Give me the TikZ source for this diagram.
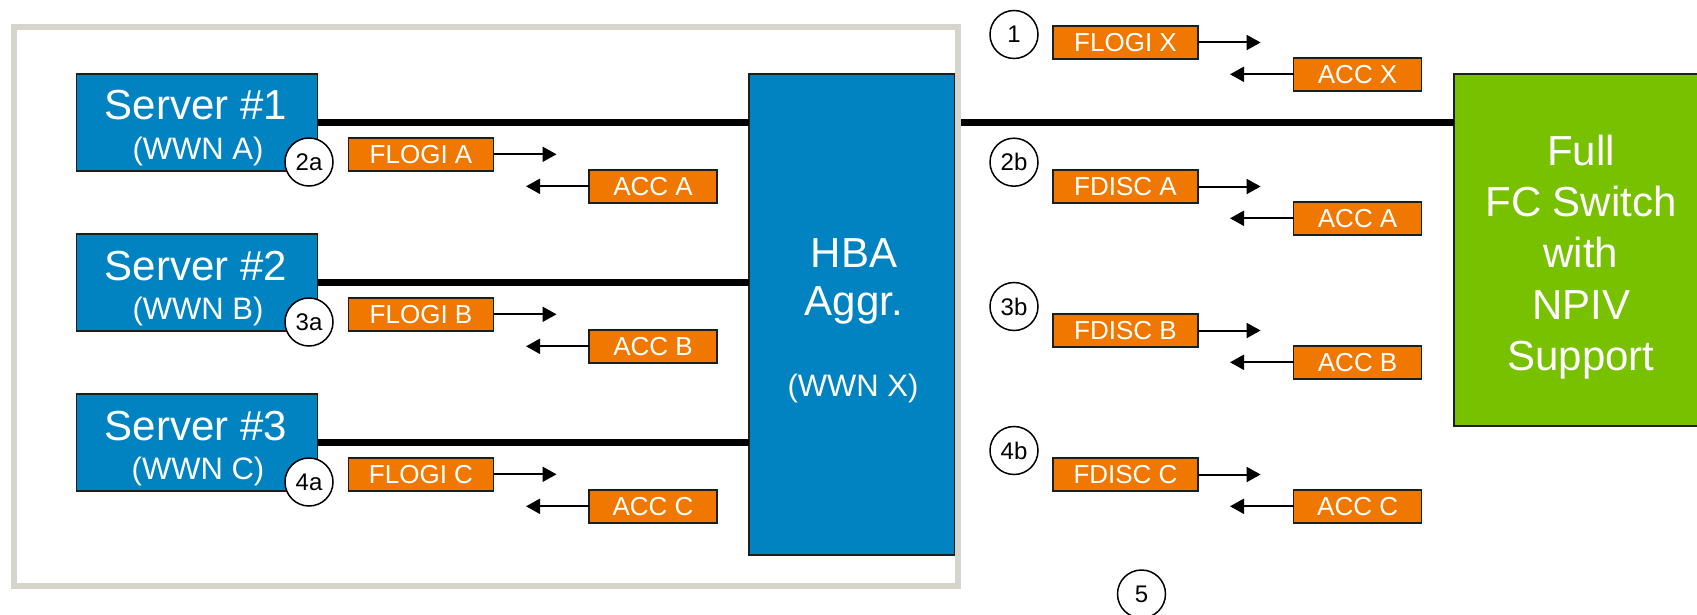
\documentclass[tikz,border=0pt]{standalone}
\usepackage{fontspec}
\setmainfont{Liberation Sans}
\usetikzlibrary{arrows.meta,calc}
\definecolor{hbablue}{RGB}{0,131,192}
\definecolor{msgorange}{RGB}{240,120,0}
\definecolor{swgreen}{RGB}{119,193,0}
\definecolor{framegray}{RGB}{213,213,203}
\definecolor{edgecol}{RGB}{30,30,30}
\begin{document}
\begin{tikzpicture}[x=1pt,y=-1pt,
  box/.style={draw=edgecol,line width=1.5pt,inner sep=0pt,outer sep=0pt},
  server/.style={box,fill=hbablue,minimum width=241pt,minimum height=97pt},
  bigtxt/.style={text=white,font=\fontsize{42}{50}\selectfont,inner sep=0pt,anchor=base},
  subtxt/.style={text=white,font=\fontsize{31}{37}\selectfont,inner sep=0pt,anchor=base},
  msg/.style={box,fill=msgorange,text=white,font=\fontsize{26}{31}\selectfont,minimum width=145pt,minimum height=33pt},
  accbox/.style={msg,minimum width=128pt},
  stepnum/.style={circle,draw=black,line width=1.5pt,fill=white,minimum size=48pt,inner sep=0pt,font=\fontsize{24}{29}\selectfont},
  link/.style={line width=6.5pt},
  msgarrow/.style={line width=2pt,-{Triangle[length=14pt,width=15pt]}}
]
\clip (0,0) rectangle (1697,615);
\fill[white] (0,0) rectangle (1697,615);

% servers
\node[server] (s1) at (197,122.5) {};
\node[bigtxt] (s1t) at (196,120) {Server \#1};
\node[subtxt] (s1w) at (198,159) {(WWN A)};
\node[server] (s2) at (197,282.5) {};
\node[bigtxt] (s2t) at (196,280) {Server \#2};
\node[subtxt] (s2w) at (198,319) {(WWN B)};
\node[server] (s3) at (197,442.5) {};
\node[bigtxt] (s3t) at (196,440) {Server \#3};
\node[subtxt] (s3w) at (198,479) {(WWN C)};

% HBA aggregator
\node[box,fill=hbablue,minimum width=206pt,minimum height=481pt] (hba) at (852,314.5) {};
\node[bigtxt] (hbat) at (854,267.7) {HBA};
\node[bigtxt] (hbag) at (854,315) {Aggr.};
\node[subtxt] (hbaw) at (853,396.7) {(WWN X)};

% switch
\node[box,fill=swgreen,minimum width=254pt,minimum height=352pt] (sw) at (1581,250) {};
\node[text=white,font=\fontsize{42}{51.3}\selectfont,align=center,inner sep=0pt] (swt) at (1581,257) {Full\\FC Switch\\with\\NPIV\\Support};

% links
\draw[link] (s1.east) -- (s1.east -| hba.west);
\draw[link] (s2.east) -- (s2.east -| hba.west);
\draw[link] (s3.east) -- (s3.east -| hba.west);
\draw[link] (hba.east |- s1.east) -- (sw.west |- s1.east);

% frame
\draw[framegray,line width=6pt] (13.8,26.7) rectangle (958,586.3);

% left messages
\node[msg] (fa) at (421,154.3) {FLOGI A};
\node[accbox] (aa) at (653,186.3) {ACC A};
\node[msg] (fb) at (421,314.3) {FLOGI B};
\node[accbox] (ab) at (653,346.3) {ACC B};
\node[msg] (fc) at (421,474.3) {FLOGI C};
\node[accbox] (ac) at (653,506.3) {ACC C};
\coordinate (fae) at (556.5,154.3);
\coordinate (aae) at (526,186.3);
\coordinate (fbe) at (556.5,314.3);
\coordinate (abe) at (526,346.3);
\coordinate (fce) at (556.5,474.3);
\coordinate (ace) at (526,506.3);
\draw[msgarrow] (fa) -- (fae);
\draw[msgarrow] (aa) -- (aae);
\draw[msgarrow] (fb) -- (fbe);
\draw[msgarrow] (ab) -- (abe);
\draw[msgarrow] (fc) -- (fce);
\draw[msgarrow] (ac) -- (ace);

% right messages
\node[msg] (fx) at (1125.5,42.5) {FLOGI X};
\node[accbox] (ax) at (1357.6,74.3) {ACC X};
\node[msg] (da) at (1125.5,186.5) {FDISC A};
\node[accbox] (ra) at (1357.6,218.3) {ACC A};
\node[msg] (db) at (1125.5,330.5) {FDISC B};
\node[accbox] (rb) at (1357.6,362.3) {ACC B};
\node[msg] (dc) at (1125.5,474.5) {FDISC C};
\node[accbox] (rc) at (1357.6,506.3) {ACC C};
\coordinate (fxe) at (1260.6,42.5);
\coordinate (axe) at (1230,74.3);
\coordinate (dae) at (1260.6,186.5);
\coordinate (rae) at (1230,218.3);
\coordinate (dbe) at (1260.6,330.5);
\coordinate (rbe) at (1230,362.3);
\coordinate (dce) at (1260.6,474.5);
\coordinate (rce) at (1230,506.3);
\draw[msgarrow] (fx) -- (fxe);
\draw[msgarrow] (ax) -- (axe);
\draw[msgarrow] (da) -- (dae);
\draw[msgarrow] (ra) -- (rae);
\draw[msgarrow] (db) -- (dbe);
\draw[msgarrow] (rb) -- (rbe);
\draw[msgarrow] (dc) -- (dce);
\draw[msgarrow] (rc) -- (rce);

% step markers
\node[stepnum] (st2a) at (309,162) {2a};
\node[stepnum] (st3a) at (309,322) {3a};
\node[stepnum] (st4a) at (309,482) {4a};
\node[stepnum] (st1) at (1014,34.5) {1};
\node[stepnum] (st2b) at (1014,162.2) {2b};
\node[stepnum] (st3b) at (1014,306.5) {3b};
\node[stepnum] (st4b) at (1014,450.5) {4b};
\node[stepnum] (st5) at (1141.5,594) {5};
\end{tikzpicture}
\end{document}
